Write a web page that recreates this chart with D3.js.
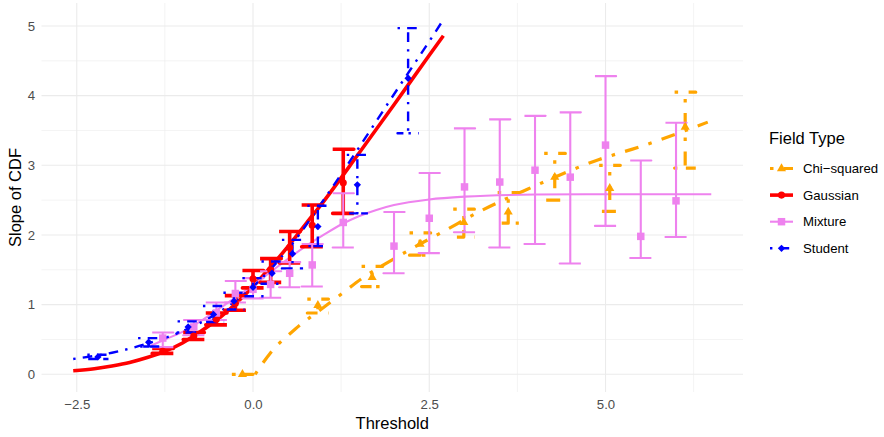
<!DOCTYPE html>
<html>
<head>
<meta charset="utf-8">
<script src="https://cdn.jsdelivr.net/npm/d3@7"></script>
<style>
  body { margin: 0; background: #fff; }
  text { font-family: "Liberation Sans", Arial, sans-serif; }
</style>
</head>
<body>
<svg id="chart" width="884" height="437"></svg>
<script>
// ---- data ----
const fieldTypes = ["Chi\u2212squared", "Gaussian", "Mixture", "Student"];

// theoretical slope curves
const chiCurveX = [0.03, 0.25, 0.6, 1.0, 1.25, 1.55, 1.95, 2.35, 2.7, 3.2, 3.9, 4.9, 5.5, 6.45];
const chiCurveY = [0.0, 0.31, 0.65, 0.96, 1.15, 1.38, 1.63, 1.86, 2.05, 2.33, 2.66, 3.08, 3.27, 3.62];
const gaussCurveX = [-2.55, -2.25, -2.0, -1.75, -1.5, -1.25, -1.0, -0.75, -0.5, -0.25, 0, 0.25, 0.5, 0.75, 1.0, 1.5, 2.0, 2.5, 2.7];
const gaussCurveY = [0.05, 0.08, 0.12, 0.17, 0.24, 0.33, 0.45, 0.61, 0.79, 1.01, 1.26, 1.54, 1.84, 2.16, 2.48, 3.17, 3.87, 4.58, 4.86];
const mixCurveX = [-1.45, -1.25, -1.0, -0.75, -0.5, -0.25, 0, 0.25, 0.5, 0.75, 1.0, 1.25, 1.5, 1.75, 2.0, 2.5, 3.0, 4.0, 5.0, 6.5];
const mixCurveY = [0.41, 0.50, 0.61, 0.76, 0.93, 1.10, 1.28, 1.47, 1.66, 1.84, 2.0, 2.15, 2.27, 2.36, 2.43, 2.51, 2.55, 2.58, 2.585, 2.585];
const stuCurveX = [-2.55, -2.0, -1.5, -1.0, -0.5, 0, 0.5, 1.0, 1.5, 2.0, 2.5, 2.68];
const stuCurveY = [0.22, 0.31, 0.44, 0.62, 0.88, 1.26, 1.8, 2.5, 3.25, 4.02, 4.78, 5.06];

// estimated slopes with intervals
const chiX = [-0.15, 0.92, 1.69, 2.37, 2.99, 3.62, 4.28, 5.06, 6.13];
const chiY = [0.0, 0.99, 1.39, 1.87, 2.18, 2.33, 2.83, 2.67, 3.55];
const chiLo = [0.0, 0.88, 1.26, 1.71, 1.97, 2.17, 2.50, 2.34, 2.96];
const chiHi = [0.0, 1.08, 1.55, 2.03, 2.37, 2.61, 3.17, 3.00, 4.05];

const gaussX = [-1.28, -0.84, -0.52, -0.25, 0, 0.25, 0.52, 0.84, 1.28];
const gaussY = [0.33, 0.55, 0.79, 1.02, 1.37, 1.50, 1.82, 2.14, 2.75];
const gaussLo = [0.30, 0.50, 0.71, 0.92, 1.24, 1.32, 1.60, 1.83, 2.31];
const gaussHi = [0.37, 0.60, 0.88, 1.13, 1.49, 1.66, 2.05, 2.43, 3.23];

const mixX = [-1.28, -0.84, -0.52, -0.25, 0, 0.25, 0.52, 0.84, 1.28, 2.0, 2.5, 3.0, 3.5, 4.0, 4.5, 5.0, 5.5, 6.0];
const mixY = [0.52, 0.68, 0.88, 1.16, 1.22, 1.29, 1.45, 1.57, 2.18, 1.84, 2.24, 2.69, 2.76, 2.93, 2.83, 3.29, 1.98, 2.49];
const mixLo = [0.39, 0.56, 0.78, 1.03, 1.09, 1.10, 1.25, 1.26, 1.82, 1.45, 1.74, 2.04, 1.82, 1.87, 1.59, 2.13, 1.67, 1.97];
const mixHi = [0.60, 0.78, 1.03, 1.34, 1.38, 1.48, 1.61, 1.87, 2.60, 2.33, 2.89, 3.53, 3.66, 3.71, 3.76, 4.28, 3.07, 3.61];

const stuX = [-2.2, -1.48, -0.92, -0.56, -0.27, 0, 0.27, 0.56, 0.92, 1.48, 2.2];
const stuY = [0.25, 0.46, 0.68, 0.86, 1.05, 1.25, 1.45, 1.73, 2.12, 2.72, 4.25];
const stuLo = [0.22, 0.40, 0.60, 0.75, 0.93, 1.12, 1.30, 1.52, 1.84, 2.31, 3.46];
const stuHi = [0.28, 0.52, 0.76, 0.98, 1.17, 1.38, 1.62, 1.93, 2.42, 3.15, 4.97];

// ticks
const xMajor = [-2.5, 0, 2.5, 5.0], xMinor = [-1.25, 1.25, 3.75, 6.25];
const xTickLabels = ["\u22122.5", "0.0", "2.5", "5.0"];
const yMajor = [0, 1, 2, 3, 4, 5], yMinor = [0.5, 1.5, 2.5, 3.5, 4.5];
const yTickLabels = ["0", "1", "2", "3", "4", "5"];

// ---- setup ----
const svg = d3.select("#chart");
const panel = {left: 41.5, right: 743, top: 3, bottom: 392};

const x = d3.scaleLinear().domain([-3.0, 6.95]).range([panel.left, panel.right]);
const y = d3.scaleLinear().domain([-0.254, 5.33]).range([panel.bottom, panel.top]);

const dotdash = w => [w, 3 * w, 4 * w, 3 * w].join(",");

const zip = (xs, ys) => xs.map((v, i) => ({x: v, y: ys[i]}));
const zipBars = (xs, ys, lo, hi) => xs.map((v, i) => ({x: v, y: ys[i], lo: lo[i], hi: hi[i]}));

const series = [
  {name: fieldTypes[0], color: "orange", width: 3.2, dash: dotdash(3.5), shape: "triangle",
   curve: zip(chiCurveX, chiCurveY), pts: zipBars(chiX, chiY, chiLo, chiHi)},
  {name: fieldTypes[1], color: "red", width: 3.6, dash: null, shape: "circle",
   curve: zip(gaussCurveX, gaussCurveY), pts: zipBars(gaussX, gaussY, gaussLo, gaussHi)},
  {name: fieldTypes[2], color: "violet", width: 2.1, dash: null, shape: "square",
   curve: zip(mixCurveX, mixCurveY), pts: zipBars(mixX, mixY, mixLo, mixHi)},
  {name: fieldTypes[3], color: "blue", width: 2.4, dash: dotdash(2.4), shape: "diamond",
   curve: zip(stuCurveX, stuCurveY), pts: zipBars(stuX, stuY, stuLo, stuHi)}
];

// ---- grid ----
const grid = svg.append("g");
grid.selectAll(".xminor").data(xMinor).join("line")
  .attr("x1", d => x(d)).attr("x2", d => x(d))
  .attr("y1", panel.top).attr("y2", panel.bottom)
  .attr("stroke", "#ebebeb").attr("stroke-width", 0.6);
grid.selectAll(".yminor").data(yMinor).join("line")
  .attr("y1", d => y(d)).attr("y2", d => y(d))
  .attr("x1", panel.left).attr("x2", panel.right)
  .attr("stroke", "#ebebeb").attr("stroke-width", 0.6);
grid.selectAll(".xmajor").data(xMajor).join("line")
  .attr("x1", d => x(d)).attr("x2", d => x(d))
  .attr("y1", panel.top).attr("y2", panel.bottom)
  .attr("stroke", "#ebebeb").attr("stroke-width", 1.1);
grid.selectAll(".ymajor").data(yMajor).join("line")
  .attr("y1", d => y(d)).attr("y2", d => y(d))
  .attr("x1", panel.left).attr("x2", panel.right)
  .attr("stroke", "#ebebeb").attr("stroke-width", 1.1);

// ---- axes (labels only) ----
const xAxis = svg.append("g")
  .attr("transform", `translate(0,${panel.bottom})`)
  .call(d3.axisBottom(x).tickValues(xMajor).tickSize(0).tickPadding(8)
    .tickFormat((d, i) => xTickLabels[i]));
const yAxis = svg.append("g")
  .attr("transform", `translate(${panel.left},0)`)
  .call(d3.axisLeft(y).tickValues(yMajor).tickSize(0).tickPadding(6.5)
    .tickFormat((d, i) => yTickLabels[i]));
[xAxis, yAxis].forEach(g => {
  g.select(".domain").remove();
  g.selectAll("text")
    .attr("fill", "#4d4d4d")
    .style("font-size", "13.2px")
    .style("font-family", "'Liberation Sans', Arial, sans-serif");
});

svg.append("text")
  .attr("x", (panel.left + panel.right) / 2).attr("y", 429)
  .attr("text-anchor", "middle")
  .style("font-size", "16.5px")
  .text("Threshold");

svg.append("text")
  .attr("transform", `translate(21,${(panel.top + panel.bottom) / 2}) rotate(-90)`)
  .attr("text-anchor", "middle")
  .style("font-size", "16.5px")
  .text("Slope of CDF");

// ---- marks ----
const line = d3.line().x(d => x(d.x)).y(d => y(d.y)).curve(d3.curveMonotoneX);

const symbolPath = (shape, scale = 1) => {
  if (shape === "circle") return d3.symbol(d3.symbolCircle, 40 * scale)();
  if (shape === "square") return d3.symbol(d3.symbolSquare, 56 * scale)();
  if (shape === "triangle") return d3.symbol(d3.symbolTriangle, 36 * scale)();
  return d3.symbol(d3.symbolSquare, 27 * scale)();
};

// curves
series.forEach(s => {
  svg.append("path")
    .datum(s.curve)
    .attr("d", line)
    .attr("fill", "none")
    .attr("stroke", s.color)
    .attr("stroke-width", s.width)
    .attr("stroke-dasharray", s.dash)
    .attr("stroke-linecap", "butt")
    .attr("stroke-linejoin", "round");
});

// error bars, drawn as one polyline like ggplot
const barHalf = 0.15;
series.forEach(s => {
  svg.append("g").selectAll("path")
    .data(s.pts)
    .join("path")
    .attr("d", d => {
      const x0 = x(d.x - barHalf), x1 = x(d.x + barHalf), xc = x(d.x);
      const yt = y(d.hi), yb = y(d.lo);
      return `M${x0},${yt}L${x1},${yt}L${xc},${yt}L${xc},${yb}L${x0},${yb}L${x1},${yb}`;
    })
    .attr("fill", "none")
    .attr("stroke", s.color)
    .attr("stroke-width", s.width)
    .attr("stroke-dasharray", s.dash)
    .attr("stroke-linecap", "butt")
    .attr("stroke-linejoin", "round");
});

// points
series.forEach(s => {
  svg.append("g").selectAll("path")
    .data(s.pts)
    .join("path")
    .attr("transform", d => `translate(${x(d.x)},${y(d.y)})` + (s.shape === "diamond" ? " rotate(45)" : ""))
    .attr("d", symbolPath(s.shape))
    .attr("fill", s.color);
});

// ---- legend ----
const legend = svg.append("g").attr("transform", "translate(769,0)");

legend.append("text")
  .attr("x", 0).attr("y", 144)
  .style("font-size", "16.5px")
  .text("Field Type");

series.forEach((s, i) => {
  const row = legend.append("g")
    .attr("transform", `translate(0,${168.5 + i * 26.6})`);

  row.append("line")
    .attr("x1", 1).attr("x2", 24)
    .attr("y1", 0).attr("y2", 0)
    .attr("stroke", s.color)
    .attr("stroke-width", s.width)
    .attr("stroke-dasharray", s.dash);

  row.append("path")
    .attr("transform", "translate(12.5,0)" + (s.shape === "diamond" ? " rotate(45)" : ""))
    .attr("d", symbolPath(s.shape))
    .attr("fill", s.color);

  row.append("text")
    .attr("x", 34).attr("y", 0)
    .attr("dy", "0.35em")
    .style("font-size", "13.2px")
    .text(s.name);
});
</script>
</body>
</html>
